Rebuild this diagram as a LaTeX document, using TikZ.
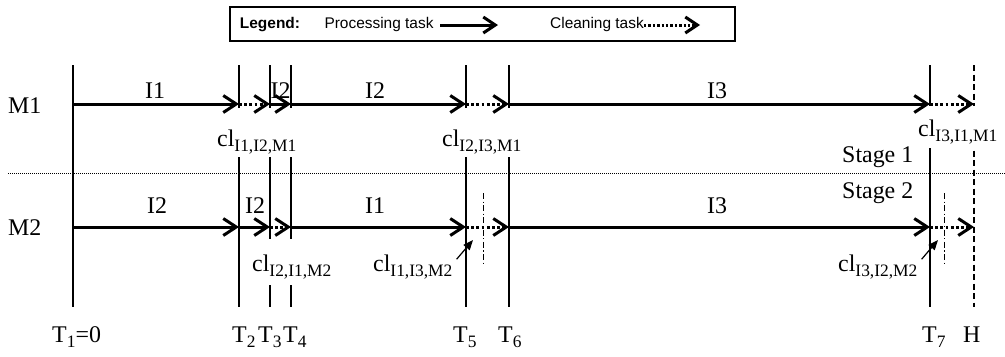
\documentclass[tikz,border=0pt]{standalone}
\usepackage{fontspec}
\setmainfont{Liberation Serif}
\newfontfamily\legfont{Liberation Sans}
\usetikzlibrary{arrows.meta,calc}
\newcommand\sbs[1]{\raisebox{-5.5bp}{\fontsize{17.5}{20}\selectfont #1}}
\begin{document}
\begin{tikzpicture}[x=1bp,y=-1bp,
  txt/.style={font=\fontsize{24}{27}\selectfont, inner sep=0pt, anchor=base west},
  cllab/.style={txt, fill=white},
  legtxt/.style={font=\legfont\fontsize{15.5}{17}\selectfont, inner sep=0pt},
  proc/.style={line width=3bp, -{Straight Barb[length=13bp,width=17bp,line width=3bp]}},
  clean/.style={proc, dash pattern=on 2.8bp off 2.4bp},
  legproc/.style={line width=3bp, -{Straight Barb[length=12bp,width=16bp,line width=3bp]}},
  legclean/.style={legproc, dash pattern=on 2.4bp off 2bp},
  vline/.style={line width=1.3bp},
  hline/.style={line width=1.3bp, dash pattern=on 6bp off 3.5bp},
  ddline/.style={line width=1bp, dash pattern=on 6bp off 2.5bp on 1.2bp off 2.5bp},
  sepline/.style={line width=0.9bp, dash pattern=on 1bp off 1bp},
  leader/.style={line width=1.2bp, -{Triangle[length=10bp,width=8bp]}}
]
\useasboundingbox (0,0) rectangle (1005,356);

% legend
\node[draw, line width=1.4bp, minimum width=505bp, minimum height=34bp, inner sep=0pt] (legend) at (482.5,24) {};
\node[legtxt, font=\legfont\bfseries\fontsize{15.5}{17}\selectfont] (legL) at (270,25) {Legend:};
\node[legtxt] (legP) at (379,25) {Processing task};
\node[legtxt] (legC) at (597,25) {Cleaning task};
\coordinate (la1) at (440,25); \coordinate (la2) at (498,25);
\coordinate (lb1) at (644,25); \coordinate (lb2) at (700,25);
\draw[legproc] (la1) -- (la2);
\draw[legclean] (lb1) -- (lb2);

% time lines
\coordinate (bot) at (0,307);
\coordinate (T1) at (73,65);
\coordinate (T2) at (239,65);
\coordinate (T3) at (270,65);
\coordinate (T4) at (291,65);
\coordinate (T5) at (466,65);
\coordinate (T6) at (509,65);
\coordinate (T7) at (930,65);
\coordinate (H) at (974,65);
\foreach \t in {T1,T2,T3,T4,T5,T6,T7}{\draw[vline] (\t) -- (\t |- bot);}
\draw[hline] (H) -- (H |- bot);

% stage separator
\coordinate (s1) at (8,173); \coordinate (s2) at (1005,173);
\draw[sepline] (s1) -- (s2);

% cleaning labels (white boxes interrupt the time lines)
\node[cllab, text height=38bp, text depth=11bp] (c1) at (217,146) {cl\sbs{I1,I2,M1}};
\node[cllab, text height=38bp, text depth=11bp] (c2) at (442,146) {cl\sbs{I2,I3,M1}};
\node[cllab, text height=30bp, text depth=12bp] (c3) at (918,136) {cl\sbs{I3,I1,M1}};
\node[cllab, text height=32bp, text depth=14bp] (c4) at (252,271) {cl\sbs{I2,I1,M2}};
\node[txt] (c5) at (373,271) {cl\sbs{I1,I3,M2}};
\node[txt] (c6) at (838,271) {cl\sbs{I3,I2,M2}};

% rows
\coordinate (r1) at (0,104);
\coordinate (r2) at (0,227);

% M1 arrows
\draw[proc] (T1 |- r1) -- (T2 |- r1);
\draw[clean] (T2 |- r1) -- (T3 |- r1);
\draw[proc] (T3 |- r1) -- (T4 |- r1);
\draw[proc] (T4 |- r1) -- (T5 |- r1);
\draw[clean] (T5 |- r1) -- (T6 |- r1);
\draw[proc] (T6 |- r1) -- (T7 |- r1);
\draw[clean] (T7 |- r1) -- (H |- r1);

% M2 arrows
\draw[proc] (T1 |- r2) -- (T2 |- r2);
\draw[proc] (T2 |- r2) -- (T3 |- r2);
\draw[clean] (T3 |- r2) -- (T4 |- r2);
\draw[proc] (T4 |- r2) -- (T5 |- r2);
\draw[clean] (T5 |- r2) -- (T6 |- r2);
\draw[proc] (T6 |- r2) -- (T7 |- r2);
\draw[clean] (T7 |- r2) -- (H |- r2);

% dash-dot markers
\coordinate (d5a) at (483,193); \coordinate (d5b) at (483,263);
\coordinate (d7a) at (944,193); \coordinate (d7b) at (944,263);
\draw[ddline] (d5a) -- (d5b);
\draw[ddline] (d7a) -- (d7b);

% leaders
\coordinate (p5) at (473,240);
\coordinate (p7) at (938,240);
\draw[leader] ($(c5.north east)+(4,5)$) -- (p5);
\draw[leader] ($(c6.north east)+(4,5)$) -- (p7);

% machine labels
\node[txt] (M1) at (8,113) {M1};
\node[txt] (M2) at (8,235) {M2};

% task labels
\node[txt] (a1) at (145,98) {I1};
\node[txt] (a2) at (270.5,98) {I2};
\node[txt] (a3) at (365,98) {I2};
\node[txt] (a4) at (707,98) {I3};
\node[txt] (b1) at (147,213) {I2};
\node[txt] (b2) at (245,213) {I2};
\node[txt] (b3) at (365,213) {I1};
\node[txt] (b4) at (707,213) {I3};

% stage labels
\node[txt] (st1) at (842,162) {Stage 1};
\node[txt] (st2) at (842,198) {Stage 2};

% time labels
\node[txt] (t1) at (52,342) {T\sbs{1}=0};
\node[txt] (t2) at (232,342) {T\sbs{2}};
\node[txt] (t3) at (258,342) {T\sbs{3}};
\node[txt] (t4) at (283,342) {T\sbs{4}};
\node[txt] (t5) at (453,342) {T\sbs{5}};
\node[txt] (t6) at (498,342) {T\sbs{6}};
\node[txt] (t7) at (922,342) {T\sbs{7}};
\node[txt] (th) at (963,342) {H};
\end{tikzpicture}
\end{document}
